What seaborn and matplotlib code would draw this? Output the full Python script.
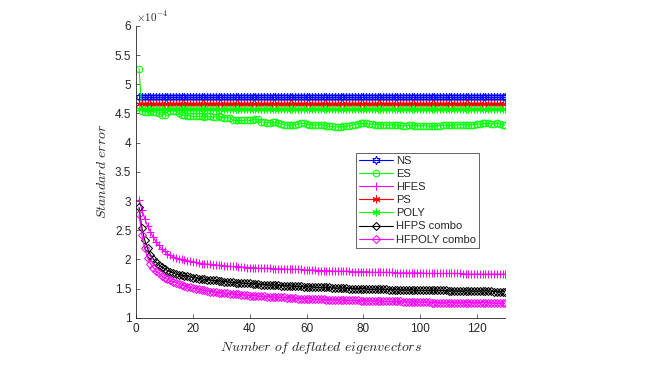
import numpy as np
import pandas as pd
import seaborn as sns
import matplotlib.pyplot as plt
from matplotlib.ticker import FuncFormatter

# values, in units of 1e-4
eig = list(range(1, 131))

ns_level = 4.78
ps_level = 4.66
poly_level = 4.58

es = [5.27, 4.55, 4.53, 4.53, 4.54, 4.53, 4.52, 4.50, 4.47, 4.48,
      4.53, 4.55, 4.55, 4.54, 4.50, 4.47, 4.47, 4.46, 4.46, 4.45,
      4.45, 4.45, 4.45, 4.44, 4.45, 4.45, 4.44, 4.44, 4.45, 4.44,
      4.43, 4.43, 4.42, 4.39, 4.38, 4.38, 4.38, 4.38, 4.39, 4.38,
      4.39, 4.41, 4.40, 4.36, 4.35, 4.34, 4.34, 4.35, 4.35, 4.34,
      4.32, 4.31, 4.30, 4.30, 4.31, 4.31, 4.32, 4.33, 4.33, 4.32,
      4.31, 4.31, 4.30, 4.30, 4.31, 4.30, 4.29, 4.28, 4.28, 4.27,
      4.27, 4.27, 4.28, 4.28, 4.29, 4.30, 4.31, 4.32, 4.33, 4.33,
      4.33, 4.32, 4.32, 4.31, 4.31, 4.31, 4.30, 4.30, 4.30, 4.31,
      4.31, 4.30, 4.30, 4.29, 4.29, 4.30, 4.30, 4.29, 4.29, 4.29,
      4.29, 4.29, 4.28, 4.28, 4.29, 4.29, 4.29, 4.30, 4.30, 4.30,
      4.30, 4.30, 4.30, 4.31, 4.31, 4.31, 4.31, 4.30, 4.31, 4.32,
      4.32, 4.33, 4.33, 4.33, 4.32, 4.32, 4.33, 4.32, 4.31, 4.30]

hfes = [3.02, 2.85, 2.70, 2.57, 2.47, 2.38, 2.30, 2.24, 2.18, 2.14,
        2.10, 2.07, 2.05, 2.03, 2.01, 2.00, 1.99, 1.98, 1.97, 1.96,
        1.95, 1.94, 1.93, 1.93, 1.92, 1.92, 1.91, 1.91, 1.90, 1.90,
        1.89, 1.89, 1.88, 1.88, 1.88, 1.87, 1.87, 1.87, 1.86, 1.86,
        1.86, 1.86, 1.85, 1.85, 1.85, 1.85, 1.85, 1.84, 1.84, 1.84,
        1.84, 1.84, 1.83, 1.83, 1.83, 1.83, 1.83, 1.83, 1.82, 1.82,
        1.82, 1.82, 1.82, 1.81, 1.81, 1.81, 1.81, 1.81, 1.80, 1.80,
        1.80, 1.80, 1.80, 1.80, 1.80, 1.79, 1.79, 1.79, 1.79, 1.79,
        1.79, 1.79, 1.78, 1.78, 1.78, 1.78, 1.78, 1.78, 1.78, 1.78,
        1.77, 1.77, 1.77, 1.77, 1.77, 1.77, 1.77, 1.77, 1.77, 1.77,
        1.77, 1.76, 1.76, 1.76, 1.76, 1.76, 1.76, 1.76, 1.76, 1.76,
        1.76, 1.76, 1.76, 1.76, 1.75, 1.75, 1.75, 1.75, 1.75, 1.75,
        1.75, 1.75, 1.75, 1.75, 1.75, 1.75, 1.75, 1.75, 1.75, 1.75]

hfps = [2.89, 2.54, 2.33, 2.19, 2.08, 2.01, 1.95, 1.91, 1.87, 1.84,
        1.81, 1.79, 1.77, 1.75, 1.74, 1.73, 1.72, 1.71, 1.70, 1.69,
        1.68, 1.67, 1.67, 1.66, 1.65, 1.65, 1.64, 1.64, 1.63, 1.63,
        1.62, 1.62, 1.61, 1.61, 1.60, 1.60, 1.60, 1.59, 1.59, 1.59,
        1.58, 1.58, 1.58, 1.57, 1.57, 1.57, 1.56, 1.56, 1.56, 1.56,
        1.55, 1.55, 1.55, 1.55, 1.54, 1.54, 1.54, 1.54, 1.53, 1.53,
        1.53, 1.53, 1.53, 1.52, 1.52, 1.52, 1.52, 1.52, 1.51, 1.51,
        1.51, 1.51, 1.51, 1.51, 1.50, 1.50, 1.50, 1.50, 1.50, 1.50,
        1.50, 1.49, 1.49, 1.49, 1.49, 1.49, 1.49, 1.49, 1.48, 1.48,
        1.48, 1.48, 1.48, 1.48, 1.48, 1.48, 1.48, 1.47, 1.47, 1.47,
        1.47, 1.47, 1.47, 1.47, 1.47, 1.47, 1.47, 1.47, 1.47, 1.46,
        1.46, 1.46, 1.46, 1.46, 1.46, 1.46, 1.46, 1.46, 1.46, 1.46,
        1.46, 1.46, 1.46, 1.46, 1.46, 1.45, 1.45, 1.45, 1.45, 1.45]

hfpoly = [2.77, 2.42, 2.19, 2.03, 1.93, 1.86, 1.80, 1.76, 1.72, 1.69,
          1.66, 1.64, 1.62, 1.60, 1.58, 1.56, 1.55, 1.53, 1.52, 1.51,
          1.50, 1.49, 1.48, 1.47, 1.46, 1.45, 1.45, 1.44, 1.43, 1.43,
          1.42, 1.42, 1.41, 1.41, 1.40, 1.40, 1.39, 1.39, 1.39, 1.38,
          1.38, 1.38, 1.37, 1.37, 1.37, 1.36, 1.36, 1.36, 1.35, 1.35,
          1.35, 1.35, 1.34, 1.34, 1.34, 1.34, 1.33, 1.33, 1.33, 1.33,
          1.33, 1.32, 1.32, 1.32, 1.32, 1.32, 1.31, 1.31, 1.31, 1.31,
          1.31, 1.31, 1.30, 1.30, 1.30, 1.30, 1.30, 1.30, 1.29, 1.29,
          1.29, 1.29, 1.29, 1.29, 1.29, 1.28, 1.28, 1.28, 1.28, 1.28,
          1.28, 1.28, 1.28, 1.27, 1.27, 1.27, 1.27, 1.27, 1.27, 1.27,
          1.27, 1.27, 1.27, 1.26, 1.26, 1.26, 1.26, 1.26, 1.26, 1.26,
          1.26, 1.26, 1.26, 1.26, 1.26, 1.26, 1.26, 1.26, 1.26, 1.26,
          1.26, 1.26, 1.26, 1.26, 1.26, 1.25, 1.25, 1.25, 1.25, 1.25]

labels = ['NS', 'ES', 'HFES', 'PS', 'POLY', 'HFPS combo', 'HFPOLY combo']

sns.set_style('ticks')
plt.rcParams['font.family'] = ['Liberation Sans', 'DejaVu Sans']
plt.rcParams['mathtext.fontset'] = 'cm'

fig = plt.figure(figsize=(6.58, 3.70), dpi=100)
ax = fig.add_axes([0.207, 0.141, 0.561, 0.789])

# name, values, colour, marker, marker size
series = [
    (labels[0], [ns_level] * len(eig), (0, 0, 1), (6, 1, 0), 6),
    (labels[1], es, (0, 1, 0), 'o', 4.8),
    (labels[2], hfes, (1, 0, 1), '+', 6),
    (labels[3], [ps_level] * len(eig), (1, 0, 0), (6, 2, 0), 5.5),
    (labels[4], [poly_level] * len(eig), (0, 1, 0), (6, 2, 0), 5.5),
    (labels[5], hfps, (0, 0, 0), 'D', 4.3),
    (labels[6], hfpoly, (1, 0, 1), 'D', 4.3),
]

for name, vals, col, mk, ms in series:
    df = pd.DataFrame({'x': eig, 'y': vals})
    sns.lineplot(data=df, x='x', y='y', ax=ax, label=name, color=col,
                 marker=mk, markersize=ms, markerfacecolor='none',
                 markeredgecolor=col, markeredgewidth=0.75, linewidth=0.8)

ax.set_xlim(0, 130)
ax.set_ylim(1, 6)
ax.set_xticks(np.arange(0, 121, 20))
ax.set_yticks(np.arange(1, 6.01, 0.5))
ax.yaxis.set_major_formatter(FuncFormatter(lambda v, p: '%g' % v))
ax.text(0.0, 1.005, r'$\times10^{-4}$', transform=ax.transAxes, ha='left',
        va='bottom', fontsize=8, color='#262626', family='DejaVu Sans')
ax.tick_params(direction='in', length=3, width=0.5, labelsize=8.5, colors='#262626')
for s in ['top', 'right']:
    ax.spines[s].set_visible(False)
for s in ['left', 'bottom']:
    ax.spines[s].set_linewidth(0.6)
    ax.spines[s].set_color('#262626')

ax.set_xlabel(r'$Number\ of\ de\!flated\ eigenvectors$', fontsize=10, color='#262626')
ax.set_ylabel(r'$Standard\ error$', fontsize=10, color='#262626')

leg = ax.legend(loc='upper left', bbox_to_anchor=(0.58, 0.585), fontsize=8,
                frameon=True, fancybox=False, framealpha=1, borderpad=0.3,
                labelspacing=0.28, handlelength=3.0, handletextpad=0.3)
leg.get_frame().set_edgecolor('#262626')
leg.get_frame().set_linewidth(0.5)

fig.savefig('out.png', dpi=100)
